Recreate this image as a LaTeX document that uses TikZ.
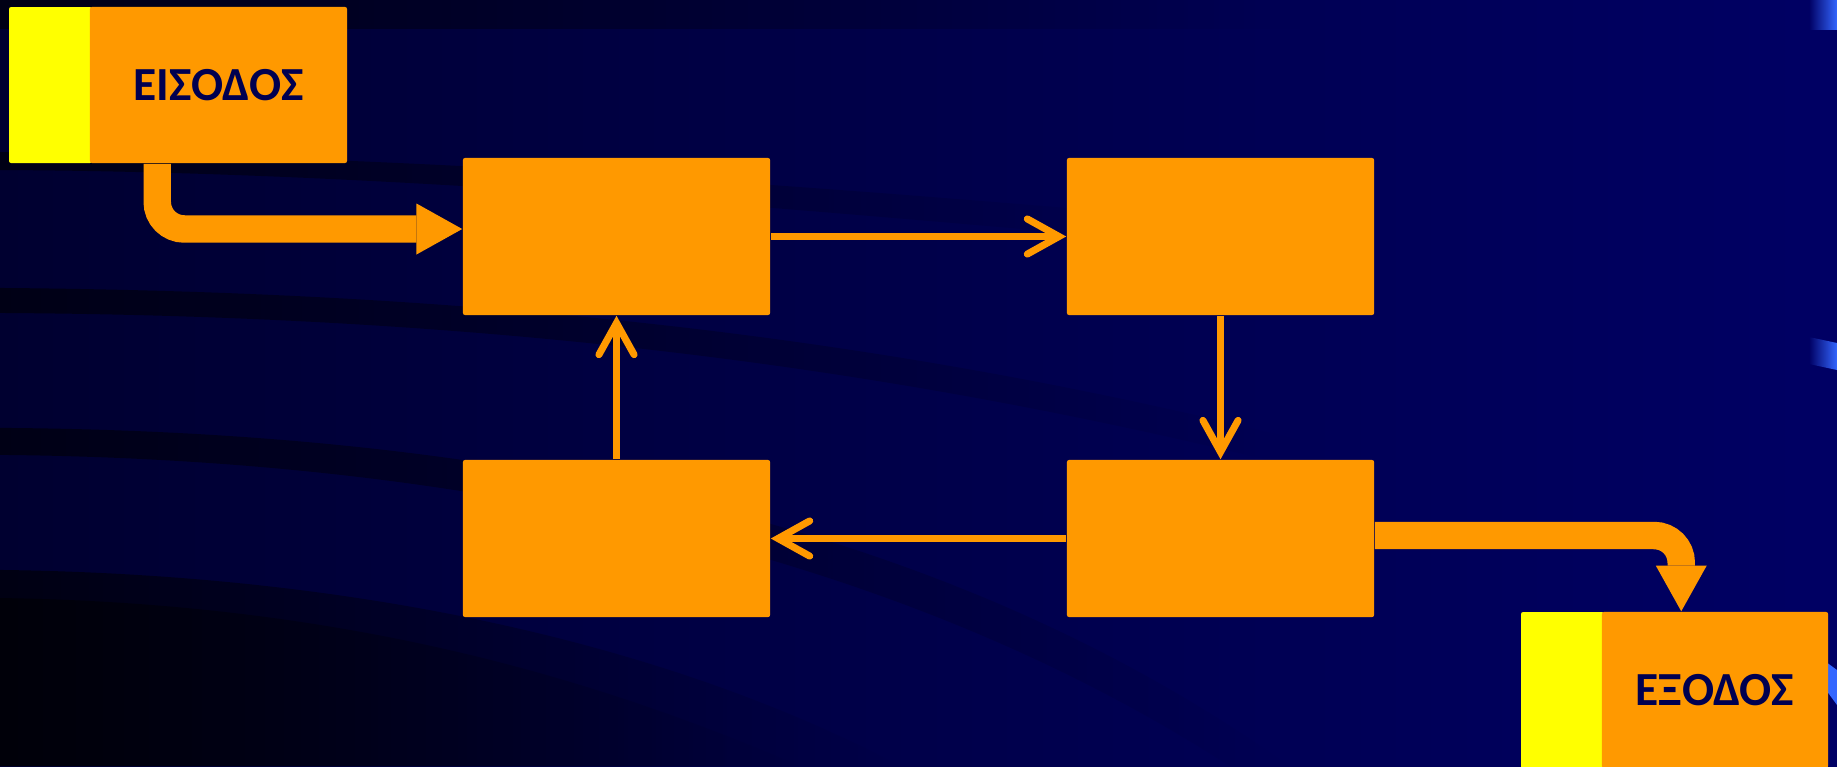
\documentclass[tikz,border=0pt]{standalone}
\usepackage{fontspec}
\setmainfont{Carlito}
\usepackage{tikz}
\usetikzlibrary{arrows.meta,calc,fadings}

\definecolor{boxorange}{RGB}{255,153,0}
\definecolor{stripyellow}{RGB}{255,255,0}
\definecolor{navytext}{RGB}{0,0,80}
\definecolor{bgleft}{RGB}{0,0,48}
\definecolor{bgright}{RGB}{0,0,100}
\definecolor{edgeblue}{RGB}{51,102,255}
\tikzfading[name=faderight, left color=transparent!0, right color=transparent!100]

\begin{document}
\begin{tikzpicture}[x=0.01cm, y=-0.01cm,
    stage/.style={shape=rectangle, fill=boxorange, rounded corners=0.6pt, minimum width=3.07cm, minimum height=1.57cm, inner sep=0pt},
    port/.style={shape=rectangle, fill=boxorange, rounded corners=0.6pt, minimum width=2.57cm, minimum height=1.56cm, inner sep=0pt, text=navytext, font=\bfseries\fontsize{13.5}{16}\selectfont},
    flow/.style={draw=boxorange, line width=2pt, -{Straight Barb[length=9pt, width=10pt, line cap=round]}},
    pipe/.style={draw=boxorange, line width=7.8pt, rounded corners=7.7pt, -{Triangle[length=13pt, width=14.5pt, line width=0pt]}},
    band/.style={fill=black, fill opacity=#1, path fading=faderight}]
\useasboundingbox (0,0) rectangle (1837,766);
\clip (0,0) rectangle (1837,766);
% background and dark bands
\shade[left color=bgleft, middle color=bgright!85!bgleft, right color=bgright] (0,0) rectangle (1837,766);
\fill[band=0.55] (0,0) rectangle (1300,29);
\fill[band=0.55] (0,152) .. controls (400,155) and (800,185) .. (1150,215) -- (1150,240) .. controls (800,210) and (400,172) .. (0,170) -- cycle;
\fill[band=0.55] (0,288) .. controls (500,292) and (900,340) .. (1300,440) -- (1300,468) .. controls (900,368) and (500,316) .. (0,313) -- cycle;
\fill[band=0.55] (0,428) .. controls (600,432) and (1000,560) .. (1290,766) -- (1230,766) .. controls (950,585) and (550,460) .. (0,455) -- cycle;
\fill[band=0.6] (0,570) .. controls (400,575) and (700,660) .. (900,766) -- (0,766) -- cycle;
\fill[band=0.5] (0,598) .. controls (350,603) and (600,680) .. (800,766) -- (0,766) -- cycle;
\shade[left color=bgright, right color=edgeblue] (1809,0) rectangle (1837,29);
\shade[left color=bgright, right color=edgeblue] (1809,337) -- (1837,343) -- (1837,370) -- (1809,364) -- cycle;
\fill[edgeblue] (1826,662) -- (1837,670) -- (1837,705) -- (1826,690) -- cycle;

\node[stage] at (616.5,236.5) (B1) {};
    \node[stage] at (1220.5,236.5) (B2) {};
    \node[stage] at (616.5,538.5) (B3) {};
    \node[stage] at (1220.5,538.5) (B4) {};
    \fill[stripyellow, rounded corners=0.6pt] (9,7) rectangle (92,163);
    \node[port] at (218.5,85) (IN) {ΕΙΣΟΔΟΣ};
    \fill[stripyellow, rounded corners=0.6pt] (1521,612) rectangle (1604,780);
    \node[port, minimum width=2.26cm] at (1715,690) (OUT) {ΕΞΟΔΟΣ};
    \coordinate (INdrop) at ($(IN.south west)+(68,0)$);
    \coordinate (OUTtop) at ($(OUT.north west)+(80,0)$);
    \path [pipe] (INdrop) |- ($(B1.west)+(0,-7.5)$);
    \path [pipe] ($(B4.east)+(0,-3)$) -| (OUTtop);
    \path [flow] (B1) edge (B2) (B2) edge (B4) (B4) edge (B3) (B3) edge (B1);
\end{tikzpicture}
\end{document}
